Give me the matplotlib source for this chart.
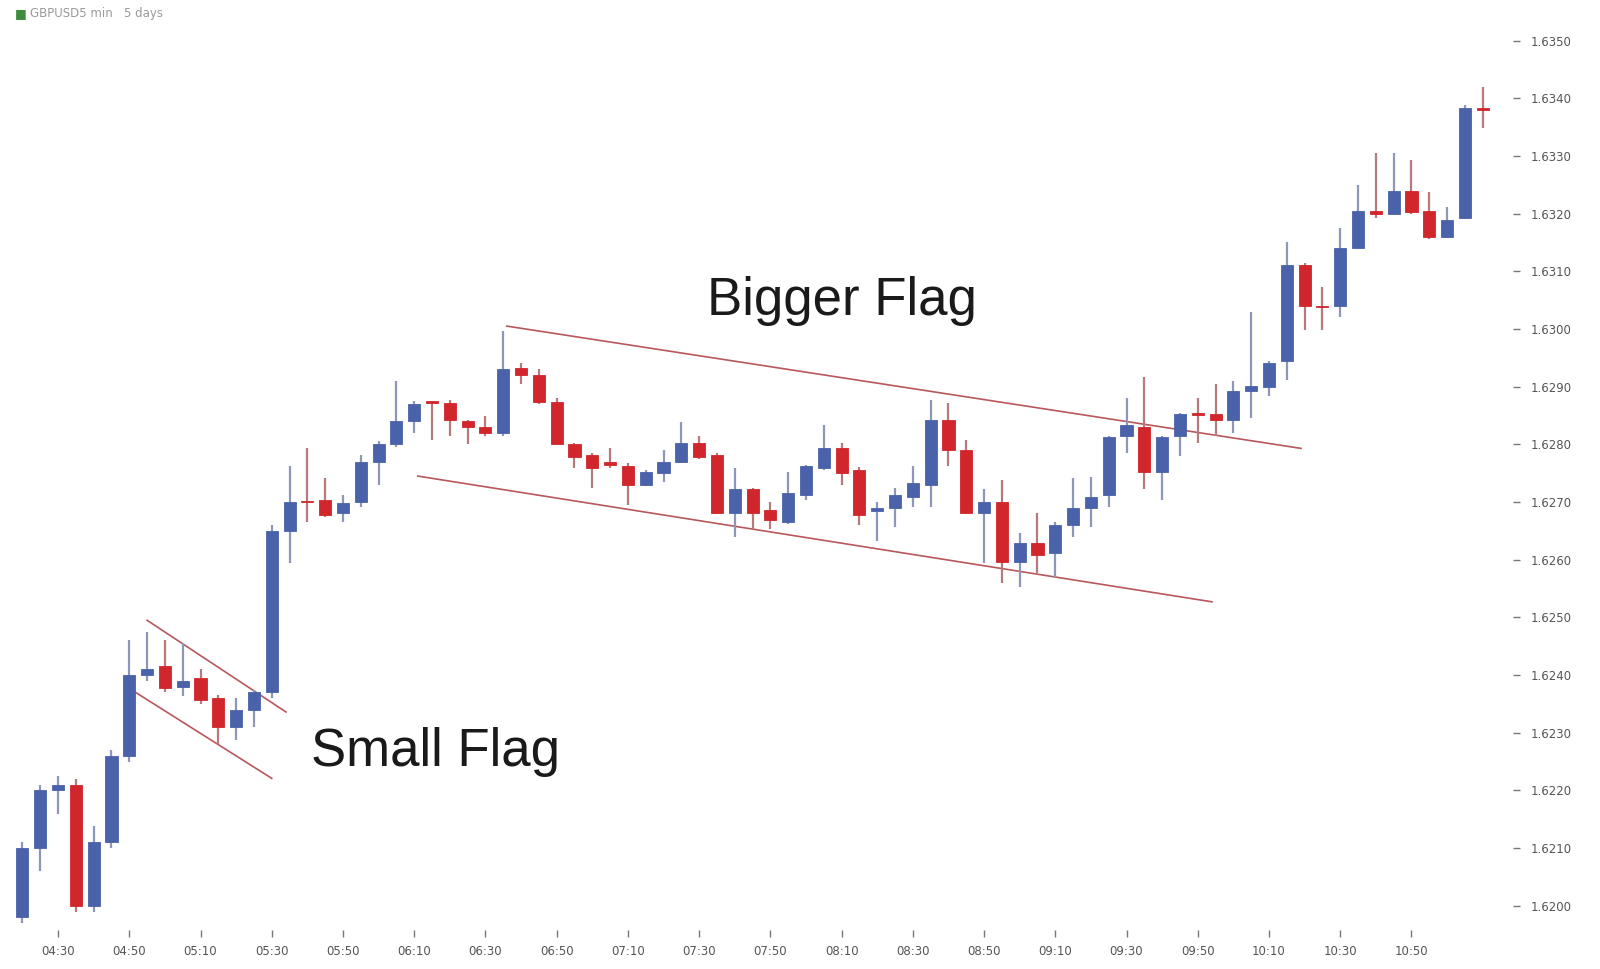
import matplotlib
matplotlib.use("Agg")
import matplotlib.pyplot as plt
import numpy as np
import pandas as pd

# 5 min candles, GBP/USD, 04:20 .. 11:10
opens = [1.6198, 1.6210, 1.6220, 1.6221, 1.6200, 1.6211, 1.6226, 1.6240, 1.62416, 1.6238,
         1.62395, 1.6236, 1.6231, 1.6234, 1.6237, 1.6265, 1.62702, 1.62704, 1.62681, 1.6270,
         1.6277, 1.6280, 1.6284, 1.62873, 1.62872, 1.6284, 1.6283, 1.6282, 1.62932, 1.6292,
         1.62874, 1.6280, 1.62782, 1.6277, 1.62762, 1.6273, 1.62751, 1.6277, 1.62803, 1.62782,
         1.62681, 1.62722, 1.62686, 1.62666, 1.62713, 1.62759, 1.62794, 1.62756, 1.62684, 1.6269,
         1.62709, 1.6273, 1.62843, 1.6279, 1.62681, 1.6270, 1.62596, 1.62629, 1.62612, 1.6266,
         1.6269, 1.62713, 1.62814, 1.6283, 1.62752, 1.62814, 1.62853, 1.62852, 1.62843, 1.62892,
         1.6290, 1.62944, 1.63111, 1.6304, 1.63039, 1.63141, 1.63204, 1.6320, 1.6324, 1.63204,
         1.6316, 1.63193, 1.63382]
highs = [1.6211, 1.6221, 1.62225, 1.6222, 1.62138, 1.6227, 1.6246, 1.62474, 1.6246, 1.62456,
         1.6241, 1.62365, 1.6236, 1.62375, 1.6266, 1.62762, 1.62794, 1.62742, 1.62713, 1.62782,
         1.62805, 1.62909, 1.62875, 1.62874, 1.62877, 1.62842, 1.6285, 1.62996, 1.62941, 1.6293,
         1.6288, 1.62802, 1.62785, 1.62794, 1.62768, 1.62756, 1.6279, 1.62839, 1.62814, 1.62785,
         1.62759, 1.62725, 1.6270, 1.62752, 1.62765, 1.62834, 1.62803, 1.6276, 1.6270, 1.62725,
         1.62762, 1.62877, 1.62872, 1.62808, 1.62722, 1.62738, 1.62646, 1.62681, 1.62665, 1.62742,
         1.62744, 1.62815, 1.62881, 1.62917, 1.62815, 1.62855, 1.62881, 1.62904, 1.62909, 1.6303,
         1.62945, 1.6315, 1.63115, 1.63072, 1.63175, 1.6325, 1.63305, 1.63305, 1.63293, 1.63238,
         1.63212, 1.63388, 1.6342]
lows = [1.6197, 1.6206, 1.6216, 1.6199, 1.6199, 1.6210, 1.6225, 1.6239, 1.6237, 1.62363,
        1.6235, 1.6228, 1.62288, 1.6231, 1.6236, 1.62594, 1.62666, 1.62674, 1.62666, 1.62692,
        1.6273, 1.62795, 1.6282, 1.62808, 1.62814, 1.6280, 1.62815, 1.62815, 1.62904, 1.6287,
        1.6280, 1.62759, 1.62724, 1.62759, 1.62695, 1.62728, 1.62734, 1.62768, 1.62775, 1.6268,
        1.6264, 1.62653, 1.62653, 1.62662, 1.62704, 1.62755, 1.6273, 1.6266, 1.62632, 1.62657,
        1.62692, 1.62692, 1.62762, 1.6268, 1.62594, 1.6256, 1.62552, 1.62577, 1.6257, 1.6264,
        1.62657, 1.62692, 1.62785, 1.62722, 1.62704, 1.62779, 1.62803, 1.62814, 1.6282, 1.62846,
        1.62883, 1.62912, 1.62999, 1.62999, 1.6302, 1.6314, 1.63193, 1.63198, 1.632, 1.63156,
        1.63158, 1.6319, 1.63349]
closes = [1.6210, 1.6220, 1.6221, 1.6200, 1.6211, 1.6226, 1.6240, 1.6241, 1.62378, 1.6239,
          1.62357, 1.6231, 1.6234, 1.6237, 1.6265, 1.6270, 1.6270, 1.62678, 1.62699, 1.6277,
          1.6280, 1.6284, 1.6287, 1.62872, 1.62843, 1.6283, 1.6282, 1.6293, 1.62921, 1.62874,
          1.6280, 1.62778, 1.62759, 1.62765, 1.6273, 1.62752, 1.6277, 1.62803, 1.62778, 1.62681,
          1.62722, 1.62681, 1.62669, 1.62716, 1.62762, 1.62794, 1.62751, 1.62678, 1.62689, 1.62713,
          1.62733, 1.62843, 1.6279, 1.62681, 1.6270, 1.62596, 1.62629, 1.62609, 1.6266, 1.6269,
          1.62709, 1.62812, 1.62834, 1.62752, 1.62812, 1.62852, 1.62851, 1.62843, 1.62892, 1.62902,
          1.62941, 1.63111, 1.63039, 1.63038, 1.63141, 1.63204, 1.6320, 1.6324, 1.63202, 1.63159,
          1.63189, 1.63383, 1.6338]

tick_labels = ["04:30", "04:50", "05:10", "05:30", "05:50", "06:10", "06:30", "06:50", "07:10", "07:30",
               "07:50", "08:10", "08:30", "08:50", "09:10", "09:30", "09:50", "10:10", "10:30", "10:50"]
price_ticks = [1.6200, 1.6210, 1.6220, 1.6230, 1.6240, 1.6250, 1.6260, 1.6270,
               1.6280, 1.6290, 1.6300, 1.6310, 1.6320, 1.6330, 1.6340, 1.6350]

# flag channels: (start time, end time), (start price, end price)
small_upper = (("04:55", "05:34"), (1.62495, 1.62336))
small_lower = (("04:51", "05:30"), (1.62373, 1.62221))
big_upper = (("06:36", "10:19"), (1.63005, 1.62793))
big_lower = (("06:11", "09:54"), (1.62745, 1.62527))
labels = [("Bigger Flag", "08:10", 1.63049), ("Small Flag", "06:16", 1.62267)]

start = pd.Timestamp("2000-01-01 04:20")
times = pd.date_range(start, periods=len(opens), freq="5min").strftime("%H:%M").tolist()


def pos(t):
    # fractional candle index for a HH:MM string
    return (pd.Timestamp("2000-01-01 " + t) - start).total_seconds() / 300.0


BLUE = "#4a62a9"
RED = "#d0262c"
BLUE_WICK = "#8d97bb"
RED_WICK = "#b57a7c"

fig = plt.figure(figsize=(16, 9.69), dpi=100)
ax = fig.add_axes([0.0, 0.0402, 0.9456, 0.934])

x = np.arange(len(opens))
o = np.array(opens)
c = np.array(closes)
up = c >= o
cols = np.where(up, BLUE, RED)
wcols = np.where(up, BLUE_WICK, RED_WICK)

ax.vlines(x, lows, highs, colors=wcols, linewidth=1.6, zorder=2)
body = np.abs(c - o)
body = np.maximum(body, 0.000025)
ax.bar(x, body, bottom=np.minimum(o, c), width=0.68, color=cols, edgecolor=cols,
       linewidth=0.6, zorder=3)

for (t0, t1), (p0, p1) in (small_upper, small_lower, big_upper, big_lower):
    ax.plot([pos(t0), pos(t1)], [p0, p1], color="#b8575c", linewidth=1.2, zorder=1)

for txt, t, p in labels:
    ax.text(pos(t), p, txt, fontsize=38, family="Liberation Sans", color="#1a1a1a",
            ha="center", va="center")

ax.set_xlim(-1.26, 83.7)
ax.set_ylim(1.61958, 1.63527)

ax.set_xticks([times.index(t) for t in tick_labels])
ax.set_xticklabels(tick_labels)
ax.set_yticks(price_ticks)
ax.set_yticklabels(["%.4f" % v for v in price_ticks])
ax.yaxis.tick_right()
ax.tick_params(axis="both", colors="#777777", labelcolor="#555555", labelsize=8.5,
               length=5, width=1, direction="out")
ax.tick_params(axis="y", pad=8)
ax.tick_params(axis="x", pad=6)
for s in ax.spines.values():
    s.set_visible(False)

fig.text(0.009, 0.986, "\u25A0", color="#3d8b3d", fontsize=9, va="center")
fig.text(0.019, 0.986, "GBPUSD5 min   5 days", color="#9a9a9a", fontsize=8.5, va="center")

fig.savefig("out.png", dpi=100, facecolor="white")
